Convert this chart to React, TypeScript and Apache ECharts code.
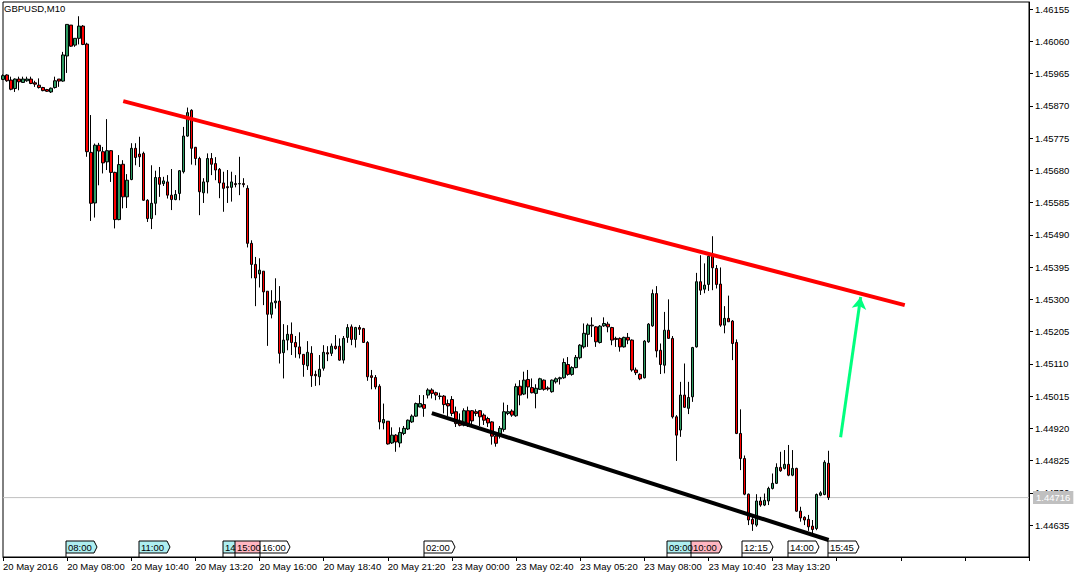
import React, { useEffect, useRef } from 'react';
import * as echarts from 'echarts';

// OHLC values (GBPUSD M10)
const openP = [
  1.45948,1.45961,1.45946,1.45921,1.45949,1.45939,1.45944,1.45949,1.45938,1.45931,
  1.45924,1.45918,1.45911,1.45924,1.45949,1.45943,1.46017,1.46108,1.46049,1.46069,
  1.46105,1.46052,1.45733,1.45584,1.45754,1.45735,1.45705,1.45738,1.45674,1.45535,
  1.45698,1.45602,1.45653,1.45745,1.45728,1.45730,1.45592,1.45538,1.45583,1.45659,
  1.45641,1.45646,1.45607,1.45594,1.45612,1.45676,1.45781,1.45857,1.45748,1.45715,
  1.45614,1.45646,1.45715,1.45700,1.45683,1.45643,1.45632,1.45630,1.45641,1.45640,
  1.45641,1.45627,1.45465,1.45403,1.45375,1.45383,1.45324,1.45256,1.45290,1.45295,
  1.45143,1.45180,1.45197,1.45173,1.45160,1.45138,1.45104,1.45141,1.45079,1.45072,
  1.45097,1.45143,1.45141,1.45162,1.45162,1.45121,1.45188,1.45219,1.45182,1.45217,
  1.45214,1.45173,1.45075,1.45070,1.45044,1.44936,1.44941,1.44877,1.44900,1.44877,
  1.44905,1.44918,1.44939,1.44956,1.44983,1.44990,1.45018,1.45033,1.45025,1.45015,
  1.45015,1.44993,1.45005,1.44969,1.44939,1.44929,1.44972,1.44972,1.44969,1.44972,
  1.44959,1.44949,1.44939,1.44897,1.44897,1.44917,1.44964,1.44971,1.44957,1.45044,
  1.45021,1.45064,1.45040,1.45023,1.45035,1.45062,1.45039,1.45028,1.45057,1.45066,
  1.45069,1.45108,1.45079,1.45099,1.45128,1.45160,1.45197,1.45224,1.45219,1.45173,
  1.45222,1.45227,1.45217,1.45185,1.45185,1.45160,1.45188,1.45180,1.45092,1.45079,
  1.45069,1.45175,1.45222,1.45317,1.45150,1.45106,1.45209,1.45185,1.44954,1.44915,
  1.45018,1.44979,1.45013,1.45160,1.45352,1.45330,1.45344,1.45427,1.45391,1.45345,
  1.45224,1.45244,1.45236,1.45173,1.44905,1.44831,1.44726,1.44652,1.44635,1.44706,
  1.44694,1.44706,1.44743,1.44758,1.44805,1.44802,1.44814,1.44782,1.44802,1.44676,
  1.44658,1.44652,1.44632,1.44625,1.44723,1.44725,1.44817
];
const closeP = [
  1.45959,1.45944,1.45919,1.45949,1.45941,1.45949,1.45949,1.45936,1.45934,1.45924,
  1.45915,1.45913,1.45922,1.45944,1.45943,1.46020,1.46110,1.46046,1.46069,1.46105,
  1.46051,1.45735,1.45583,1.45754,1.45737,1.45702,1.45738,1.45674,1.45535,1.45697,
  1.45602,1.45651,1.45745,1.45718,1.45720,1.45592,1.45538,1.45583,1.45659,1.45639,
  1.45649,1.45607,1.45594,1.45609,1.45679,1.45781,1.45850,1.45745,1.45715,1.45617,
  1.45646,1.45715,1.45698,1.45681,1.45643,1.45627,1.45629,1.45646,1.45638,1.45641,
  1.45638,1.45465,1.45403,1.45363,1.45386,1.45322,1.45256,1.45290,1.45295,1.45141,
  1.45180,1.45197,1.45173,1.45160,1.45139,1.45108,1.45144,1.45075,1.45075,1.45094,
  1.45144,1.45139,1.45162,1.45155,1.45121,1.45185,1.45217,1.45182,1.45217,1.45212,
  1.45173,1.45072,1.45070,1.45042,1.44939,1.44946,1.44874,1.44900,1.44880,1.44908,
  1.44920,1.44944,1.44956,1.44993,1.44993,1.44979,1.45033,1.45023,1.45018,1.45014,
  1.44990,1.44986,1.44964,1.44934,1.44929,1.44972,1.44929,1.44942,1.44964,1.44954,
  1.44944,1.44936,1.44897,1.44876,1.44920,1.44969,1.44969,1.44959,1.45043,1.45018,
  1.45062,1.45042,1.45025,1.45038,1.45066,1.45035,1.45036,1.45062,1.45066,1.45069,
  1.45114,1.45079,1.45099,1.45129,1.45165,1.45200,1.45224,1.45222,1.45175,1.45221,
  1.45229,1.45219,1.45180,1.45182,1.45160,1.45188,1.45180,1.45092,1.45084,1.45066,
  1.45177,1.45227,1.45317,1.45148,1.45108,1.45209,1.45185,1.44954,1.44900,1.45018,
  1.44982,1.45011,1.45158,1.45352,1.45327,1.45342,1.45427,1.45393,1.45344,1.45224,
  1.45244,1.45234,1.45170,1.44905,1.44831,1.44726,1.44650,1.44638,1.44706,1.44694,
  1.44708,1.44743,1.44758,1.44805,1.44795,1.44814,1.44782,1.44802,1.44676,1.44656,
  1.44650,1.44630,1.44622,1.44725,1.44730,1.44820,1.44716
];
const lowP = [
  1.45946,1.45941,1.45916,1.45911,1.45916,1.45938,1.45941,1.45934,1.45926,1.45921,
  1.45913,1.45911,1.45908,1.45921,1.45926,1.45941,1.45967,1.46044,1.46044,1.46051,
  1.46049,1.45720,1.45531,1.45541,1.45636,1.45671,1.45681,1.45646,1.45509,1.45533,
  1.45568,1.45569,1.45651,1.45695,1.45690,1.45590,1.45528,1.45507,1.45548,1.45602,
  1.45634,1.45597,1.45563,1.45592,1.45592,1.45671,1.45779,1.45697,1.45695,1.45548,
  1.45584,1.45612,1.45666,1.45651,1.45598,1.45558,1.45584,1.45588,1.45630,1.45607,
  1.45630,1.45453,1.45362,1.45280,1.45335,1.45283,1.45163,1.45244,1.45273,1.45111,
  1.45067,1.45150,1.45136,1.45128,1.45126,1.45072,1.45092,1.45042,1.45045,1.45047,
  1.45090,1.45118,1.45133,1.45152,1.45119,1.45111,1.45172,1.45165,1.45158,1.45195,
  1.45172,1.45060,1.45035,1.45035,1.44917,1.44917,1.44872,1.44874,1.44851,1.44864,
  1.44900,1.44915,1.44936,1.44954,1.44982,1.44954,1.45008,1.45008,1.45003,1.45005,
  1.44964,1.44956,1.44956,1.44924,1.44926,1.44926,1.44924,1.44932,1.44956,1.44927,
  1.44930,1.44924,1.44872,1.44866,1.44890,1.44910,1.44959,1.44954,1.44954,1.44988,
  1.45018,1.45008,1.45023,1.44979,1.45033,1.45031,1.45031,1.45025,1.45052,1.45049,
  1.45066,1.45075,1.45075,1.45097,1.45123,1.45155,1.45160,1.45189,1.45160,1.45170,
  1.45219,1.45203,1.45165,1.45160,1.45146,1.45158,1.45168,1.45087,1.45077,1.45062,
  1.45067,1.45172,1.45219,1.45129,1.45080,1.45082,1.45185,1.44949,1.44824,1.44895,
  1.44981,1.44962,1.44998,1.45158,1.45313,1.45318,1.45325,1.45327,1.45332,1.45219,
  1.45200,1.45234,1.45121,1.44903,1.44797,1.44723,1.44635,1.44618,1.44630,1.44689,
  1.44691,1.44694,1.44740,1.44756,1.44792,1.44799,1.44779,1.44779,1.44674,1.44645,
  1.44635,1.44618,1.44611,1.44620,1.44720,1.44723,1.44709
];
const highP = [
  1.45963,1.45963,1.45956,1.45951,1.45956,1.45956,1.45956,1.45956,1.45944,1.45951,
  1.45926,1.45920,1.45924,1.45956,1.45949,1.46029,1.46110,1.46108,1.46069,1.46134,
  1.46108,1.46056,1.45843,1.45759,1.45761,1.45749,1.45831,1.45740,1.45676,1.45725,
  1.45710,1.45669,1.45760,1.45760,1.45779,1.45735,1.45595,1.45695,1.45679,1.45690,
  1.45661,1.45666,1.45684,1.45622,1.45681,1.45808,1.45865,1.45860,1.45749,1.45720,
  1.45657,1.45730,1.45731,1.45719,1.45687,1.45676,1.45681,1.45676,1.45666,1.45720,
  1.45657,1.45636,1.45474,1.45425,1.45421,1.45383,1.45324,1.45327,1.45362,1.45339,
  1.45227,1.45224,1.45232,1.45192,1.45203,1.45138,1.45177,1.45162,1.45090,1.45136,
  1.45165,1.45162,1.45170,1.45195,1.45185,1.45192,1.45227,1.45226,1.45219,1.45224,
  1.45216,1.45177,1.45092,1.45077,1.45050,1.44993,1.44941,1.44923,1.44903,1.44923,
  1.44927,1.44946,1.44961,1.44996,1.45018,1.45018,1.45038,1.45038,1.45028,1.45025,
  1.45018,1.45005,1.45015,1.44984,1.44964,1.44979,1.44984,1.44974,1.44976,1.44974,
  1.44964,1.44954,1.44941,1.44900,1.44927,1.44996,1.44989,1.44976,1.45052,1.45062,
  1.45087,1.45092,1.45067,1.45050,1.45069,1.45064,1.45044,1.45064,1.45070,1.45072,
  1.45126,1.45130,1.45103,1.45136,1.45168,1.45229,1.45229,1.45247,1.45221,1.45224,
  1.45247,1.45234,1.45219,1.45190,1.45188,1.45190,1.45201,1.45182,1.45099,1.45082,
  1.45180,1.45230,1.45329,1.45339,1.45170,1.45263,1.45300,1.45192,1.44959,1.45057,
  1.45111,1.45057,1.45160,1.45378,1.45430,1.45406,1.45437,1.45486,1.45401,1.45394,
  1.45280,1.45311,1.45239,1.45182,1.44976,1.44840,1.44728,1.44665,1.44726,1.44718,
  1.44728,1.44748,1.44787,1.44817,1.44851,1.44856,1.44871,1.44856,1.44804,1.44689,
  1.44661,1.44665,1.44650,1.44728,1.44735,1.44826,1.44854
];

const X_TICK_LABELS = [
  '20 May 2016', '20 May 08:00', '20 May 10:40', '20 May 13:20', '20 May 16:00',
  '20 May 18:40', '20 May 21:20', '23 May 00:00', '23 May 02:40', '23 May 05:20',
  '23 May 08:00', '23 May 10:40', '23 May 13:20'
];
const PRICE_TICKS = [
  1.46155, 1.4606, 1.45965, 1.4587, 1.45775, 1.4568, 1.45585, 1.4549, 1.45395,
  1.453, 1.45205, 1.4511, 1.45015, 1.4492, 1.44825, 1.4473, 1.44635
];
const CURRENT_PRICE = 1.44716;
const Y_MIN = 1.44541;
const Y_MAX = 1.46176;
const SLOT_COUNT = 257;
const TICK_EVERY = 16;

// trend-line anchors: [bar index, price]
const RED_TREND = [[30, 1.45884], [225, 1.45283]];
const BLACK_TREND = [[107, 1.44965], [206, 1.44591]];
const GREEN_ARROW = [[209, 1.44894], [214, 1.45307]];

// event flags along the bottom: [label, left, width, fill]
const FLAGS: [string, number, number, string][] = [
  ['08:00', 66, 28, '#aeeef0'],
  ['11:00', 139, 28, '#aeeef0'],
  ['14', 223, 12, '#aeeef0'],
  ['15:00', 235, 25, '#ffb6c1'],
  ['16:00', 260, 27, '#ffffff'],
  ['02:00', 424, 28, '#ffffff'],
  ['09:00', 667, 24, '#aeeef0'],
  ['10:00', 691, 28, '#ffb6c1'],
  ['12:15', 742, 28, '#ffffff'],
  ['14:00', 788, 28, '#ffffff'],
  ['15:45', 828, 28, '#ffffff'],
];

const FONT = 'Liberation Sans';

export default function App() {
  const ref = useRef<HTMLDivElement>(null);
  useEffect(() => {
    if (!ref.current) return;
    const chart = echarts.init(ref.current, undefined, { renderer: 'svg' });
    const cats = Array.from({ length: SLOT_COUNT }, (_, i) => String(i));
    const candles = openP.map((o, i) => [o, closeP[i], lowP[i], highP[i]]);

    const flagGraphics: any[] = [];
    FLAGS.forEach(([txt, x, w, fill]) => {
      flagGraphics.push({
        type: 'polygon',
        shape: { points: [[x, 541], [x + w, 541], [x + w + 3, 547], [x + w, 553], [x, 553]] },
        style: { fill, stroke: '#000', lineWidth: 1 },
        z: 100,
      });
      flagGraphics.push({
        type: 'line',
        shape: { x1: x, y1: 553, x2: x, y2: 557 },
        style: { stroke: '#000', lineWidth: 1 },
        z: 100,
      });
      flagGraphics.push({
        type: 'text',
        x: x + 2,
        y: 542.5,
        style: { text: txt, fill: '#000', font: `9.5px "${FONT}"` },
        z: 101,
      });
    });

    chart.setOption({
      animation: false,
      backgroundColor: '#ffffff',
      grid: {
        left: 2, right: 53, top: 2, bottom: 21,
        show: true, borderColor: '#000', borderWidth: 1, backgroundColor: '#fff',
      },
      xAxis: {
        type: 'category',
        data: cats,
        boundaryGap: false,
        axisLine: { show: true, lineStyle: { color: '#000', width: 1 } },
        axisTick: { show: true, interval: TICK_EVERY - 1, length: 4, lineStyle: { color: '#000' } },
        axisLabel: {
          interval: TICK_EVERY - 1,
          align: 'left',
          margin: 4,
          color: '#000',
          fontFamily: FONT,
          fontSize: 9.5,
          formatter: (_v: string, idx: number) => {
            const k = idx / TICK_EVERY;
            return Number.isInteger(k) && X_TICK_LABELS[k] ? X_TICK_LABELS[k] : '';
          },
        },
        splitLine: { show: false },
      },
      yAxis: {
        type: 'value',
        position: 'right',
        min: Y_MIN,
        max: Y_MAX,
        scale: true,
        axisLine: { show: true, lineStyle: { color: '#000' } },
        axisTick: { show: true, length: 4, customValues: PRICE_TICKS, lineStyle: { color: '#000' } },
        axisLabel: {
          customValues: PRICE_TICKS,
          margin: 6,
          color: '#000',
          fontFamily: FONT,
          fontSize: 9.5,
          formatter: (v: number) => v.toFixed(5),
        },
        splitLine: { show: false },
      },
      series: [
        {
          type: 'line',
          data: [[0, CURRENT_PRICE], [SLOT_COUNT - 1, CURRENT_PRICE]],
          symbol: 'none',
          silent: true,
          lineStyle: { color: '#c0c0c0', width: 1 },
          endLabel: {
            show: true,
            formatter: CURRENT_PRICE.toFixed(5),
            distance: 4,
            backgroundColor: '#c0c0c0',
            color: '#ffffff',
            padding: [2, 3, 1, 3],
            fontFamily: FONT,
            fontSize: 9.5,
          },
          z: 1,
        },
        {
          type: 'candlestick',
          data: candles,
          barWidth: 3,
          itemStyle: {
            color: '#2e9b62',
            color0: '#ff0000',
            borderColor: '#000',
            borderColor0: '#000',
            borderWidth: 1,
          },
          z: 3,
        },
        {
          type: 'line',
          data: RED_TREND,
          symbol: 'none',
          lineStyle: { color: '#ff0000', width: 4 },
          z: 5,
        },
        {
          type: 'line',
          data: BLACK_TREND,
          symbol: 'none',
          lineStyle: { color: '#000000', width: 4 },
          z: 5,
        },
        {
          type: 'line',
          data: GREEN_ARROW,
          symbol: 'none',
          lineStyle: { width: 0, opacity: 0 },
          markLine: {
            silent: true,
            symbol: ['none', 'arrow'],
            symbolSize: [11, 12],
            lineStyle: { color: '#00ff7f', width: 3, type: 'solid' },
            label: { show: false },
            data: [[{ coord: GREEN_ARROW[0] }, { coord: GREEN_ARROW[1] }]],
          },
          z: 6,
        },
      ],
      graphic: [
        {
          type: 'text',
          left: 4,
          top: 3,
          style: { text: 'GBPUSD,M10', fill: '#000', font: `9.5px "${FONT}"` },
          z: 100,
        },
        ...flagGraphics,
      ],
    });
    return () => chart.dispose();
  }, []);
  return (
    <div
      ref={ref}
      style={{ position: 'fixed', left: 0, top: 0, width: 1082, height: 578, background: '#fff' }}
    />
  );
}
